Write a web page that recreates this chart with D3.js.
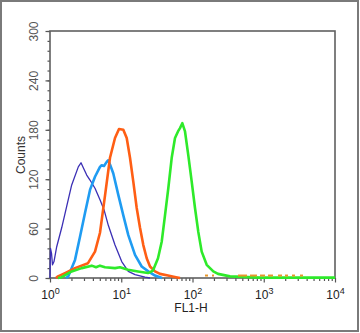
<!DOCTYPE html>
<html lang="en">
<head>
<meta charset="UTF-8" />
<title>FL1-H histogram overlay</title>
<script src="https://d3js.org/d3.v7.min.js"></script>
<style>
  body { margin: 0; background: white; }
  svg { display: block; font-family: "Liberation Sans", Arial, sans-serif; }
  .frame { fill: none; stroke: #606060; stroke-width: 1.6; }
  .outer { fill: none; stroke: #7a7a7a; stroke-width: 2; }
  .axis path { display: none; }
  .axis line { stroke: #555; stroke-width: 1.2; }
  .ylab text { fill: #555; font-size: 12px; }
  .xlab text { fill: #222; font-size: 12px; }
  .hist { fill: none; stroke-linejoin: round; }
</style>
</head>
<body>
<svg id="chart" width="360" height="333"></svg>
<script>
// FL1-H value (linear units) and counts
const isotypeFL = [1, 1.016, 1.05, 1.084, 1.138, 1.242, 1.459, 1.715, 2.016, 2.496, 2.724, 3.001, 3.275, 3.642, 4.281, 5.031, 5.727, 6.58, 8.173, 10.15, 12.56, 15.6, 21.54, 25.33];
const isotypeCounts = [0, 36, 30, 16, 20, 38, 61, 87, 113, 135, 140, 132, 125, 119, 109, 95, 83, 64, 40, 20, 8, 4, 1, 0];

const lightBlueFL = [1.677, 1.806, 2.244, 2.637, 3.099, 3.642, 4.281, 5.031, 5.316, 5.727, 6.249, 6.58, 6.952, 7.734, 9.092, 10.69, 12.56, 15.6, 19.36, 23.97, 29.76, 37.33];
const lightBlueCounts = [0, 2, 22, 50, 79, 107, 123, 135, 137, 136, 141, 143, 138, 127, 101, 76, 52, 28, 14, 8, 3, 0];

const orangeFL = [1.214, 1.295, 1.624, 2.244, 3.415, 4.281, 5.031, 5.915, 6.952, 8.173, 9.299, 10.69, 11.93, 13.27, 14.76, 16.48, 18.34, 20.4, 22.76, 25.33, 29.76, 34.99, 45.31, 58.67, 66.77];
const orangeCounts = [0, 2, 6, 12, 18, 32, 55, 100, 146, 170, 181, 180, 170, 146, 117, 85, 61, 40, 24, 14, 8, 5, 3, 1, 0];
// sparse low-count bins in the orange tail: [from, to] at a count of about 3
const orangeTail = [[149.8, 165], [187.8, 200.4], [435.1, 582], [641.2, 804.2], [886.2, 1041], [1147, 1348], [1585, 1804], [1987, 2190], [2492, 2745], [3228, 3556]];
const orangeTailCount = 3;

const greenFL = [1.295, 1.459, 1.677, 2.016, 2.786, 3.848, 4.421, 5.031, 5.915, 8.173, 9.604, 12.44, 17.18, 23.74, 27.9, 32.8, 36.96, 41.11, 45.75, 51.07, 56.81, 62.59, 66.77, 71.94, 78.49, 87.33, 97.45, 108.4, 120.6, 134.6, 158.2, 195.9, 228, 336, 886.2, 10000];
const greenCounts = [0, 1, 4, 8, 12, 15, 13, 15, 13, 12, 13, 10, 8, 6, 9, 24, 44, 76, 109, 146, 170, 178, 182, 188, 178, 149, 117, 85, 56, 32, 16, 8, 5, 2, 0.5, 0.5];

const yMajor = [0, 60, 120, 180, 240, 300];
const xMajor = [1, 10, 100, 1000, 10000];

const svg = d3.select("#chart");
const x = d3.scaleLog().domain([1, 10000]).range([50, 335]);
const y = d3.scaleLinear().domain([0, 300]).range([278, 31]);

svg.append("rect").attr("class", "outer").attr("x", 1).attr("y", 1).attr("width", 357).attr("height", 330);

// y axis: minor every 12, major every 60
svg.append("g").attr("class", "axis").attr("transform", "translate(50,0)")
  .call(d3.axisLeft(y).tickValues(d3.range(0, 301, 12)).tickSize(2.5).tickFormat(""));
const yAx = svg.append("g").attr("class", "axis ylab").attr("transform", "translate(50,0)")
  .call(d3.axisLeft(y).tickValues(yMajor).tickSize(4.5).tickFormat(d3.format("d")));
yAx.selectAll("text")
  .attr("transform", "rotate(-90)")
  .attr("x", 0).attr("y", -12.5).attr("dy", 0)
  .style("text-anchor", "middle");

// x axis: log minor ticks and decade majors
const xMinor = [];
for (let e = 0; e < 4; e++) for (let m = 2; m <= 9; m++) xMinor.push(m * Math.pow(10, e));
svg.append("g").attr("class", "axis").attr("transform", "translate(0,278)")
  .call(d3.axisBottom(x).tickValues(xMinor).tickSize(3).tickFormat(""));
const xAx = svg.append("g").attr("class", "axis xlab").attr("transform", "translate(0,278)")
  .call(d3.axisBottom(x).tickValues(xMajor).tickSize(4.5).tickFormat(""));
xAx.selectAll(".tick text").remove();
xAx.selectAll(".tick").append("text")
  .attr("y", 21).attr("x", 0)
  .style("text-anchor", "middle")
  .each(function (d) {
    const t = d3.select(this);
    t.append("tspan").text("10");
    t.append("tspan").attr("dy", -5).style("font-size", "9px").text(Math.round(Math.log10(d)));
  });

// axis titles
svg.append("text").attr("transform", "translate(24.5,155) rotate(-90)")
  .attr("text-anchor", "middle").attr("font-size", 12).attr("fill", "#333").text("Counts");
svg.append("text").attr("x", 191).attr("y", 312)
  .attr("text-anchor", "middle").attr("font-size", 12).attr("fill", "#222").text("FL1-H");

// plot frame under the curves
svg.append("rect").attr("class", "frame").attr("x", 50).attr("y", 31).attr("width", 285).attr("height", 247);

// histograms
const line = d3.line().x(d => x(d[0])).y(d => y(d[1]));
const series = [
  { fl: isotypeFL, counts: isotypeCounts, color: "#3b2fb5", width: 1.3 },
  { fl: lightBlueFL, counts: lightBlueCounts, color: "#1f9cf2", width: 2.6 },
  { fl: orangeFL, counts: orangeCounts, color: "#ff5e14", width: 2.6 },
  { fl: greenFL, counts: greenCounts, color: "#2eea2a", width: 2.6 }
];

const histG = svg.append("g");
series.forEach(s => {
  histG.append("path").attr("class", "hist")
    .attr("stroke", s.color).attr("stroke-width", s.width)
    .attr("d", line(s.fl.map((v, j) => [v, s.counts[j]])));
});

histG.selectAll("line.tail").data(orangeTail).join("line")
  .attr("class", "tail")
  .attr("x1", d => x(d[0])).attr("x2", d => x(d[1]))
  .attr("y1", y(orangeTailCount)).attr("y2", y(orangeTailCount))
  .attr("stroke", "#e8962a").attr("stroke-width", 2);
</script>
</body>
</html>
